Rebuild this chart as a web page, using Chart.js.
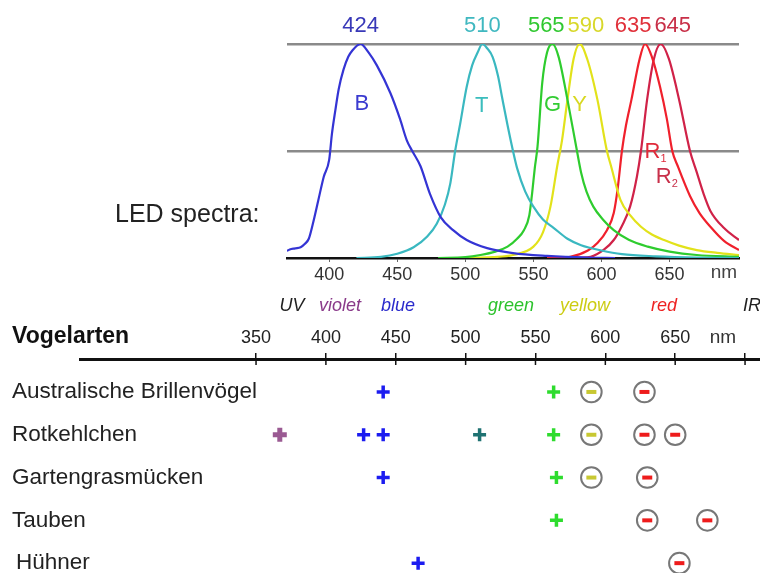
<!DOCTYPE html>
<html>
<head>
<meta charset="utf-8">
<script src="https://cdn.jsdelivr.net/npm/chart.js@4"></script>
<style>
  html, body { margin: 0; padding: 0; background: #fff; }
  #wrap { position: relative; width: 760px; height: 573px; overflow: hidden; font-family: "Liberation Sans", Arial, sans-serif; }
  canvas { position: absolute; left: 0; top: 0; }
  .t { position: absolute; white-space: nowrap; }
  .c { transform: translateX(-50%); }
  .band { top: 293px; font-size: 18px; font-style: italic; line-height: 24px; }
</style>
</head>
<body>
<div id="wrap">
  <canvas id="birds" width="760" height="573"></canvas>
  <canvas id="spectra" width="760" height="573"></canvas>

  <div class="t" style="left:115px; top:198px; font-size:25px; line-height:30px; color:#222;">LED spectra:</div>
  <div class="t c" style="left:724px; top:260px; font-size:19px; line-height:24px; color:#444;">nm</div>

  <div class="t c band" style="left:292px; color:#222;">UV</div>
  <div class="t c band" style="left:340px; color:#8a3a8a;">violet</div>
  <div class="t c band" style="left:398px; color:#2a2acc;">blue</div>
  <div class="t c band" style="left:511px; color:#2cc22c;">green</div>
  <div class="t c band" style="left:585px; color:#cccc11;">yellow</div>
  <div class="t c band" style="left:664px; color:#ee2222;">red</div>
  <div class="t c band" style="left:752px; color:#222;">IR</div>

  <div class="t" style="left:12px; top:321px; font-size:23px; line-height:28px; font-weight:bold; color:#111;">Vogelarten</div>
  <div class="t c" style="left:723px; top:325px; font-size:19px; line-height:24px; color:#333;">nm</div>
</div>

<script>
const FONT = '"Liberation Sans", Arial, sans-serif';

// LED spectra: [wavelength nm, relative intensity]
const ledPeaks = [424, 510, 565, 590, 635, 645];
const spectrumB = [[369,0.033],[371,0.04],[375,0.045],[379,0.05],[382,0.065],[385,0.09],[388,0.16],[392,0.27],[396,0.38],[400,0.46],[402,0.58],[404.5,0.69],[407,0.79],[410.5,0.88],[414,0.94],[417,0.97],[423,1.0],[429,0.96],[435,0.9],[445,0.77],[452,0.65],[457,0.55],[461,0.5],[467,0.43],[474,0.3],[482,0.19],[491,0.13],[501,0.084],[516,0.046],[535,0.023],[560,0.01],[590,0.002],[610,0]];
const spectrumT = [[420,0],[438,0.005],[450,0.02],[462,0.05],[472,0.1],[479,0.16],[485,0.25],[489,0.35],[492.5,0.5],[496,0.62],[501,0.8],[505,0.9],[509,0.96],[512.5,1.0],[516,0.98],[520,0.94],[524,0.85],[527,0.75],[531,0.62],[535,0.5],[538,0.42],[544,0.31],[550,0.24],[557,0.18],[565,0.14],[575,0.09],[585,0.06],[600,0.035],[615,0.018],[640,0.008],[670,0.002],[701,0]];
const spectrumG = [[480,0],[500,0.004],[511,0.014],[522,0.03],[531,0.053],[538,0.09],[543,0.13],[547,0.2],[549,0.3],[551,0.42],[553,0.52],[556.5,0.82],[560,0.96],[564,1.0],[568.5,0.94],[575,0.74],[582,0.5],[585,0.4],[589,0.31],[594,0.24],[601,0.18],[609,0.13],[620,0.085],[634,0.053],[650,0.03],[670,0.014],[701,0.005]];
const spectrumY = [[500,0],[520,0.004],[535,0.014],[550,0.053],[557,0.12],[562.5,0.24],[567.5,0.43],[571,0.55],[575,0.74],[579.5,0.93],[584,1.0],[589.5,0.93],[597,0.74],[604,0.5],[607,0.43],[614,0.27],[621,0.2],[629,0.146],[637,0.11],[646,0.084],[657,0.058],[670,0.037],[685,0.024],[701,0.014]];
const spectrumR1 = [[560,0],[577,0.006],[590,0.035],[597,0.07],[604,0.13],[609,0.21],[612,0.33],[615,0.5],[618,0.62],[622,0.74],[628,0.93],[632,1.0],[637,0.94],[643,0.8],[648,0.65],[652,0.5],[656,0.43],[665,0.29],[672,0.21],[680,0.146],[690,0.08],[701,0.037]];
const spectrumR2 = [[575,0],[592,0.006],[602,0.04],[609,0.084],[615,0.15],[621,0.24],[626,0.38],[629,0.5],[633.5,0.74],[638.5,0.93],[643.5,1.0],[649.5,0.93],[657,0.74],[665,0.5],[670,0.4],[675,0.3],[680,0.22],[690,0.14],[701,0.084]];
const topTicks = [400, 450, 500, 550, 600, 650];

// bird species and marker positions [wavelength nm, row]
const species = ['Australische Brillenvögel', 'Rotkehlchen', 'Gartengrasmücken', 'Tauben', 'Hühner'];
const violetPlus = [[367, 1]];
const bluePlus = [[441, 0], [427, 1], [441, 1], [441, 2], [466, 4]];
const tealPlus = [[510, 1]];
const greenPlus = [[563, 0], [563, 1], [565, 2], [565, 3]];
const yellowMinus = [[590, 0], [590, 1], [590, 2]];
const redMinus = [[628, 0], [628, 1], [650, 1], [630, 2], [630, 3], [673, 3], [653, 4]];
const bottomTicks = [350, 400, 450, 500, 550, 600, 650, 700];

// styles
const curves = [
  { points: spectrumB, color: '#3434d4', label: '#3838b8' },
  { points: spectrumT, color: '#3ab8c0', label: '#40b8c0' },
  { points: spectrumG, color: '#2ecc2e', label: '#30c830' },
  { points: spectrumY, color: '#e2e21a', label: '#d8d82a' },
  { points: spectrumR1, color: '#f0202c', label: '#e0303a' },
  { points: spectrumR2, color: '#d02248', label: '#c83048' }
];
const letters = [
  { text: 'B', nm: 424, v: 0.72, color: '#3b3bd0' },
  { text: 'T', nm: 512, v: 0.71, color: '#3bbdbd' },
  { text: 'G', nm: 564, v: 0.715, color: '#33cc33' },
  { text: 'Y', nm: 584, v: 0.715, color: '#d8d820' },
  { text: 'R', sub: '1', nm: 637.5, v: 0.497, color: '#e02a3a' },
  { text: 'R', sub: '2', nm: 645.7, v: 0.38, color: '#c8304a' }
];

const toXY = arr => arr.map(([x, y]) => ({ x, y }));

const spectrumLabels = {
  id: 'spectrumLabels',
  afterDatasetsDraw(chart) {
    const { ctx, chartArea, scales: { x, y } } = chart;
    ctx.save();
    ctx.font = '22px ' + FONT;
    ctx.textAlign = 'center';
    ctx.textBaseline = 'middle';
    // peak numbers above the top line, pushed apart where they crowd
    const items = curves.map((c, i) => {
      const peak = c.points.reduce((a, b) => b[1] > a[1] ? b : a);
      const text = String(ledPeaks[i]);
      return { text, color: c.label, px: x.getPixelForValue(peak[0]), w: ctx.measureText(text).width };
    });
    for (let pass = 0; pass < 4; pass++) {
      for (let i = 1; i < items.length; i++) {
        const a = items[i - 1], b = items[i];
        const need = (a.w + b.w) / 2 + 3;
        if (b.px - a.px < need) {
          const mid = (a.px + b.px) / 2;
          a.px = mid - need / 2;
          b.px = mid + need / 2;
        }
      }
    }
    items.forEach(it => { ctx.fillStyle = it.color; ctx.fillText(it.text, it.px, chartArea.top - 18); });

    // letters inside the curves
    letters.forEach(l => {
      const px = x.getPixelForValue(l.nm), py = y.getPixelForValue(l.v);
      ctx.font = '22px ' + FONT;
      ctx.textAlign = 'center';
      ctx.fillStyle = l.color;
      ctx.fillText(l.text, px, py);
      if (l.sub) {
        const w = ctx.measureText(l.text).width;
        ctx.font = '11px ' + FONT;
        ctx.textAlign = 'left';
        ctx.fillText(l.sub, px + w / 2, py + 7);
      }
    });
    ctx.restore();
  }
};

new Chart(document.getElementById('spectra'), {
  type: 'line',
  data: {
    datasets: curves.map(c => ({
      data: toXY(c.points),
      borderColor: c.color,
      borderWidth: 2.2,
      pointRadius: 0,
      fill: false,
      cubicInterpolationMode: 'monotone'
    }))
  },
  options: {
    responsive: false,
    animation: false,
    events: [],
    layout: { autoPadding: false, padding: { left: 287, right: 21, top: 44, bottom: 285 } },
    scales: {
      x: {
        type: 'linear', min: 369, max: 701,
        afterBuildTicks: s => { s.ticks = topTicks.map(v => ({ value: v })); },
        afterFit: s => { s.height = 30; s.paddingLeft = 0; s.paddingRight = 0; },
        grid: { drawOnChartArea: false, tickLength: 4, color: '#666' },
        border: { color: '#111', width: 2.5 },
        ticks: { color: '#333', padding: 2, maxRotation: 0, autoSkip: false, font: { family: FONT, size: 18 } }
      },
      y: {
        min: 0, max: 1,
        afterBuildTicks: s => { s.ticks = [0, 0.5, 1].map(v => ({ value: v })); },
        afterFit: s => { s.width = 0; s.paddingTop = 0; s.paddingBottom = 0; },
        ticks: { display: false },
        grid: { color: c => c.tick.value === 0 ? 'rgba(0,0,0,0)' : '#8a8a8a', lineWidth: 2.5, drawTicks: false },
        border: { display: false }
      }
    },
    plugins: { legend: { display: false }, tooltip: { enabled: false } }
  },
  plugins: [spectrumLabels]
});

// tick marks crossing the thick line, and species names on the left
const birdDecor = {
  id: 'birdDecor',
  afterDraw(chart) {
    const { ctx, chartArea, scales: { x, y } } = chart;
    ctx.save();
    ctx.strokeStyle = '#111';
    ctx.lineWidth = 1.5;
    x.ticks.forEach(t => {
      const px = x.getPixelForValue(t.value);
      ctx.beginPath();
      ctx.moveTo(px, chartArea.top);
      ctx.lineTo(px, chartArea.top + 6);
      ctx.stroke();
    });
    ctx.font = '22.5px ' + FONT;
    ctx.fillStyle = '#222';
    ctx.textAlign = 'left';
    ctx.textBaseline = 'middle';
    species.forEach((name, i) => {
      ctx.fillText(name, i === species.length - 1 ? 16 : 12, y.getPixelForValue(i));
    });
    ctx.restore();
  }
};

const plusSet = (arr, color, width, radius) => ({
  data: toXY(arr), pointStyle: 'cross', pointRadius: radius, pointBorderWidth: width,
  pointBorderColor: color, pointBackgroundColor: color, showLine: false, order: 1
});
const dashSet = (arr, color) => ({
  data: toXY(arr), pointStyle: 'line', pointRadius: 5, pointBorderWidth: 4,
  pointBorderColor: color, pointBackgroundColor: color, showLine: false, order: 1
});

new Chart(document.getElementById('birds'), {
  type: 'scatter',
  data: {
    datasets: [
      plusSet(violetPlus, '#9a5a92', 5, 7),
      plusSet(bluePlus, '#1c1cf0', 3.5, 6.5),
      plusSet(tealPlus, '#1f7272', 3.5, 6.5),
      plusSet(greenPlus, '#2edc2e', 3.5, 6.5),
      dashSet(yellowMinus, '#c8c832'),
      dashSet(redMinus, '#ee1c1c'),
      {
        data: toXY(yellowMinus.concat(redMinus)), pointStyle: 'circle', pointRadius: 10.3,
        pointBorderWidth: 2, pointBorderColor: '#777', pointBackgroundColor: '#fff',
        showLine: false, order: 2
      }
    ]
  },
  options: {
    responsive: false,
    animation: false,
    events: [],
    layout: { autoPadding: false, padding: { left: 12, right: 0, top: 319, bottom: 0 } },
    scales: {
      x: {
        type: 'linear', position: 'top', min: 224, max: 710.7,
        afterBuildTicks: s => { s.ticks = bottomTicks.map(v => ({ value: v })); },
        afterFit: s => { s.height = 40; s.paddingLeft = 0; s.paddingRight = 0; },
        grid: { drawOnChartArea: false, tickLength: 6, color: '#111', lineWidth: 1.5 },
        border: { color: '#111', width: 3 },
        ticks: {
          color: '#222', padding: 4, maxRotation: 0, autoSkip: false,
          font: { family: FONT, size: 18 },
          callback: v => v === 700 ? '' : String(v)
        }
      },
      y: {
        type: 'linear', reverse: true, min: -0.77, max: 4.23,
        afterBuildTicks: s => { s.ticks = species.map((_, i) => ({ value: i })); },
        afterFit: s => { s.width = 68; s.paddingTop = 0; s.paddingBottom = 0; },
        grid: { display: false },
        border: { display: false },
        ticks: { display: false }
      }
    },
    plugins: { legend: { display: false }, tooltip: { enabled: false } }
  },
  plugins: [birdDecor]
});
</script>
</body>
</html>
